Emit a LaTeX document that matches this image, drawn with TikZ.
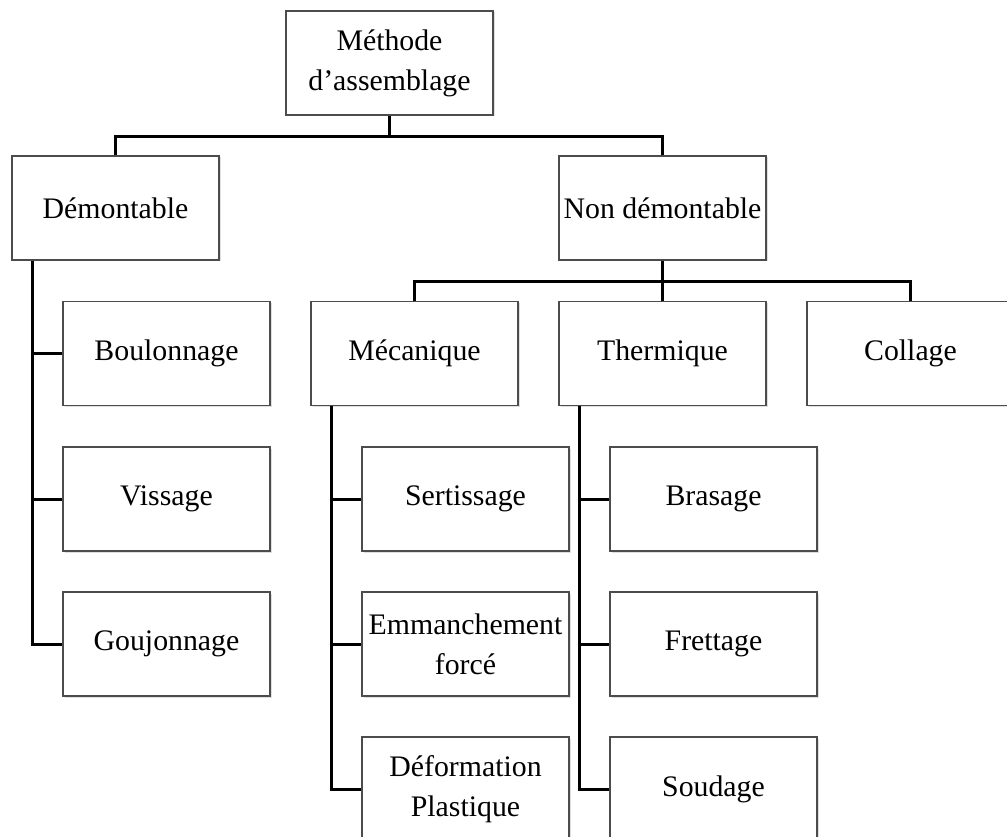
\documentclass[tikz,border=0pt]{standalone}
\usepackage{fontspec}
\setmainfont{Liberation Serif}
\usetikzlibrary{shadows}
\begin{document}
\begin{tikzpicture}[x=1pt,y=-1pt,
  box/.style={draw=black!70, line width=1.4pt, fill=white, rectangle,
    minimum width=207pt, minimum height=104pt, inner sep=2pt, align=center,
    font=\fontsize{29.8}{40}\selectfont,
    drop shadow={shadow xshift=1.5pt, shadow yshift=-1.5pt, opacity=0.25, fill=black!50}},
  conn/.style={draw=black, line width=3pt}]
\useasboundingbox (0,0) rectangle (1007,837);
\clip (0,0) rectangle (1007,837);
\fill[white] (0,0) rectangle (1007,837);

\node[box] (meth) at (389.5,63) {Méthode\\d’assemblage};
\node[box] (dem) at (115.5,208) {Démontable};
\node[box] (nondem) at (662.5,208) {Non démontable};

\node[box] (boul) at (166.5,353.5) {Boulonnage};
\node[box] (viss) at (166.5,499) {Vissage};
\node[box] (gouj) at (166.5,644) {Goujonnage};

\node[box] (meca) at (414.5,353.5) {Mécanique};
\node[box] (therm) at (662.5,353.5) {Thermique};
\node[box] (coll) at (910.5,353.5) {Collage};

\node[box] (sert) at (465.5,499) {Sertissage};
\node[box] (emm) at (465.5,644) {Emmanchement\\forcé};
\node[box] (def) at (465.5,789) {Déformation\\Plastique};

\node[box] (bras) at (713.5,499) {Brasage};
\node[box] (fret) at (713.5,644) {Frettage};
\node[box] (soud) at (713.5,789) {Soudage};

% top level
\draw[conn] (meth.south) -- ++(0,21) coordinate (j1);
\draw[conn] (dem.north) |- (j1) -| (nondem.north);

% second level
\draw[conn] (nondem.south) -- ++(0,21) coordinate (j2);
\draw[conn] (j2) -- (therm.north);
\draw[conn] (meca.north) |- (j2) -| (coll.north);

% Démontable bus
\coordinate (bd) at ([xshift=21pt]dem.south west);
\draw[conn] (bd) |- (gouj.west);
\draw[conn] (bd |- boul.west) -- (boul.west);
\draw[conn] (bd |- viss.west) -- (viss.west);

% Mécanique bus
\coordinate (bm) at ([xshift=21pt]meca.south west);
\draw[conn] (bm) |- (def.west);
\draw[conn] (bm |- sert.west) -- (sert.west);
\draw[conn] (bm |- emm.west) -- (emm.west);

% Thermique bus
\coordinate (bt) at ([xshift=21pt]therm.south west);
\draw[conn] (bt) |- (soud.west);
\draw[conn] (bt |- bras.west) -- (bras.west);
\draw[conn] (bt |- fret.west) -- (fret.west);
\end{tikzpicture}
\end{document}
